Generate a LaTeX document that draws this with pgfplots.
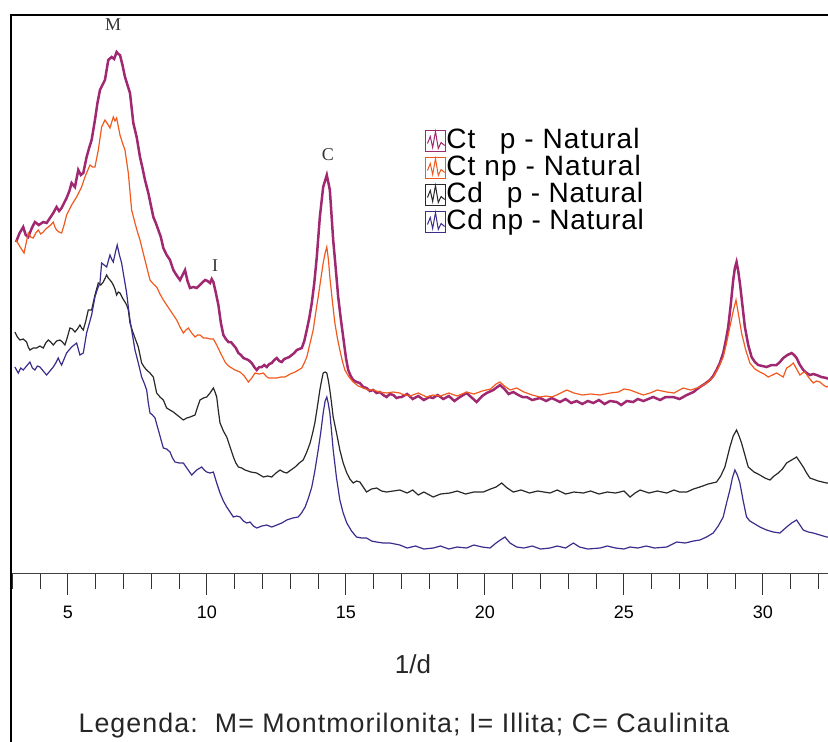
\documentclass[border=0pt]{standalone}
\usepackage{fontspec}
\setmainfont{Liberation Sans}
\newfontfamily\serifface{Liberation Serif}
\newfontfamily\spacedface[LetterSpace=4]{Liberation Sans}
\newfontfamily\legface[LetterSpace=2.5]{Liberation Sans}
\usepackage{pgfplots}
\pgfplotsset{compat=1.18}
\definecolor{ctp}{RGB}{160,40,112}
\definecolor{ctnp}{RGB}{240,90,30}
\definecolor{cdp}{RGB}{40,40,40}
\definecolor{cdnp}{RGB}{60,45,140}
\begin{document}
\begin{tikzpicture}
\begin{axis}[
  width=408.5pt, height=279pt, scale only axis,
  xmin=2.95, xmax=32.34, ymin=0, ymax=558,
  axis x line=bottom, axis y line=none,
  x axis line style={-, line width=0.5pt, draw=black!75},
  clip=false,
  xtick={5,10,15,20,25,30},
  minor xtick={3,4,6,7,8,9,11,12,13,14,16,17,18,19,21,22,23,24,26,27,28,29,31,32},
  tick align=outside,
  major tick length=10.8pt, minor tick length=8pt,
  every tick/.style={black!80, line width=0.5pt},
  ticklabel style={font=\fontsize{9}{10}\selectfont},
  xticklabel style={yshift=-2pt},
  /pgf/number format/assume math mode=true,
  legend style={draw=none, fill=none, at={(rel axis cs:0.5067,0.80)}, anchor=north west,
    font=\spacedface\fontsize{14}{16}\selectfont, inner sep=0pt, row sep=0pt,
    nodes={inner sep=0pt, text height=10.5pt, text depth=3pt}},
  legend cell align=left,
  legend image code/.code={
    \draw[#1, line width=0.5pt] (0pt,-5.5pt) rectangle (10pt,5.25pt);
    \draw[#1, line width=0.5pt] (0.8pt,-1.5pt) -- (2.2pt,2pt) -- (3.4pt,-3.5pt) -- (4.8pt,4.5pt) -- (6.2pt,-4pt) -- (7.6pt,-1pt) -- (9.4pt,-2.5pt);
  },
]
\addplot[ctp, line width=1.25pt] coordinates {
(3.13,331) (3.26,340) (3.39,346) (3.48,338) (3.57,336) (3.7,345) (3.81,351) (3.95,348) (4.11,351) (4.23,350) (4.35,355) (4.47,360) (4.59,366) (4.68,362) (4.77,365) (4.86,370) (4.95,375) (5.05,382) (5.13,390) (5.25,386) (5.37,403) (5.46,398) (5.55,400) (5.67,416) (5.76,425) (5.85,433) (5.97,453) (6.06,470) (6.15,483) (6.24,488) (6.33,493) (6.45,513) (6.57,516) (6.66,514) (6.75,521) (6.81,519) (6.87,518) (6.96,508) (7.05,496) (7.14,488) (7.23,480) (7.35,450) (7.47,436) (7.59,416) (7.68,405) (7.77,393) (7.89,380) (7.98,368) (8.07,356) (8.16,350) (8.25,343) (8.34,336) (8.43,325) (8.55,318) (8.67,313) (8.79,303) (8.9,298) (9.03,293) (9.12,298) (9.21,303) (9.3,292) (9.39,285) (9.51,286) (9.63,285) (9.78,289) (9.93,293) (10.02,292) (10.11,290) (10.17,294) (10.23,291) (10.32,280) (10.41,268) (10.5,250) (10.59,238) (10.68,234) (10.77,231) (10.86,231) (10.95,228) (11.04,225) (11.13,220) (11.22,218) (11.31,215) (11.4,214) (11.49,213) (11.61,210) (11.7,206) (11.79,203) (11.88,206) (11.97,206) (12.06,208) (12.15,206) (12.24,209) (12.33,210) (12.42,213) (12.51,215) (12.6,212) (12.69,211) (12.78,214) (12.87,215) (12.96,216) (13.05,218) (13.14,220) (13.23,223) (13.32,224) (13.41,225) (13.5,232) (13.59,243) (13.68,255) (13.77,270) (13.86,290) (13.95,316) (14.06,356) (14.18,386) (14.31,398) (14.42,383) (14.54,333) (14.63,305) (14.72,276) (14.81,255) (14.9,236) (15.0,215) (15.08,203) (15.17,197) (15.26,193) (15.38,191) (15.5,190) (15.62,186) (15.74,185) (15.86,182) (15.98,183) (16.1,180) (16.22,181) (16.34,178) (16.46,176) (16.58,179) (16.7,178) (16.82,175) (16.94,176)
(17.0,176) (17.2,179) (17.4,174) (17.6,177) (17.8,173) (18.0,176) (18.13,175) (18.3,178) (18.5,174) (18.7,177) (18.9,172) (19.1,176) (19.34,180) (19.5,176) (19.7,171) (19.9,177) (20.06,180) (20.3,183) (20.54,188) (20.7,184) (20.85,179) (21.02,181) (21.2,178) (21.35,176) (21.5,176) (21.7,173) (21.98,175) (22.2,172) (22.4,175) (22.7,171) (22.9,174) (23.1,170) (23.3,172) (23.5,169) (23.7,172) (23.9,170) (24.1,173) (24.3,169) (24.5,172) (24.74,171) (24.9,168) (25.1,172) (25.33,171) (25.5,174) (25.7,172) (26.05,176) (26.3,173) (26.5,176) (26.77,176) (27.0,174) (27.26,178) (27.5,181)
(27.73,186) (27.9,189) (28.09,193) (28.21,197) (28.33,203) (28.45,210) (28.57,220) (28.66,232) (28.75,246) (28.84,268) (28.93,293) (28.99,305) (29.05,311) (29.11,302) (29.17,290) (29.26,268) (29.35,246) (29.47,228) (29.59,216) (29.71,211) (29.83,208) (29.98,207) (30.13,206) (30.31,208) (30.49,208) (30.61,211) (30.73,215) (30.88,218) (31.03,220) (31.12,218) (31.21,215) (31.33,208) (31.45,203) (31.57,200) (31.69,198) (31.81,199) (31.93,198) (32.1,196) (32.29,195) (32.34,194)
};
\addlegendentry{Ct \phantom{n}p - Natural}
\addplot[ctnp, line width=0.6pt] coordinates {
(3.13,333) (3.28,326) (3.42,320) (3.57,340) (3.66,336) (3.75,335) (3.84,340) (3.93,343) (4.02,339) (4.11,341) (4.2,344) (4.29,346) (4.38,348) (4.47,351) (4.53,346) (4.59,343) (4.68,341) (4.77,340) (4.86,348) (4.95,358) (5.04,363) (5.13,368) (5.22,372) (5.31,376) (5.4,381) (5.49,386) (5.61,396) (5.7,402) (5.79,408) (5.88,406) (5.97,406) (6.09,423) (6.21,446) (6.33,453) (6.45,448) (6.51,445) (6.63,456) (6.69,452) (6.75,455) (6.87,438) (6.96,430) (7.05,423) (7.17,400) (7.29,363) (7.41,350) (7.5,341) (7.59,333) (7.68,323) (7.77,313) (7.86,303) (7.95,293) (8.07,289) (8.19,286) (8.31,279) (8.43,273) (8.55,268) (8.67,263) (8.79,258) (8.91,253) (9.03,246) (9.15,240) (9.24,243) (9.33,245) (9.45,240) (9.57,236) (9.66,238) (9.75,238) (9.87,235) (9.99,235) (10.11,234) (10.23,234) (10.35,228) (10.47,221) (10.56,216) (10.65,211) (10.74,208) (10.83,206) (11.01,203) (11.19,201) (11.34,197) (11.49,191) (11.61,195) (11.73,200) (11.88,199) (12.03,200) (12.12,197) (12.21,195) (12.36,195) (12.51,195) (12.66,196) (12.81,196) (12.99,199) (13.17,201) (13.29,203) (13.41,205) (13.5,210) (13.59,216) (13.71,230) (13.82,243) (13.91,260) (14.0,276) (14.09,293) (14.18,310) (14.25,320) (14.31,326) (14.37,313) (14.42,296) (14.51,272) (14.6,250) (14.69,235) (14.78,223) (14.87,212) (14.96,203) (15.11,196) (15.26,191) (15.44,187) (15.62,185) (15.8,183) (15.98,183) (16.22,181) (16.46,180) (16.7,181) (16.94,180)
(17.0,179) (17.3,177) (17.6,180) (17.9,176) (18.13,178) (18.4,177) (18.7,180) (19.0,177) (19.34,181) (19.6,179) (19.9,182) (20.2,184) (20.4,189) (20.54,191) (20.7,187) (20.9,183) (21.14,185) (21.4,181) (21.7,178) (21.98,176) (22.2,177) (22.4,176) (22.58,178) (22.94,183) (23.2,180) (23.5,178) (23.8,179) (24.14,178) (24.5,180) (24.8,181) (25.0,184) (25.22,183) (25.5,180) (25.7,178) (25.94,180) (26.2,183) (26.54,181) (26.8,180) (27.13,185) (27.4,183)
(27.73,186) (27.97,190) (28.21,196) (28.39,205) (28.57,216) (28.69,230) (28.81,246) (28.93,262) (29.03,273) (29.13,257) (29.23,240) (29.38,223) (29.53,210) (29.71,204) (29.89,201) (30.04,199) (30.19,196) (30.34,198) (30.49,200) (30.61,198) (30.73,196) (30.85,205) (30.97,207) (31.09,210) (31.21,204) (31.33,198) (31.42,200) (31.51,201) (31.66,195) (31.81,190) (31.93,192) (32.05,191) (32.17,188) (32.29,186) (32.34,187)
};
\addlegendentry{Ct np - Natural}
\addplot[cdp, line width=0.6pt] coordinates {
(3.09,241) (3.18,236) (3.27,233) (3.39,234) (3.51,231) (3.57,226) (3.63,223) (3.75,225) (3.87,225) (3.99,227) (4.11,225) (4.2,230) (4.29,233) (4.38,231) (4.47,228) (4.59,232) (4.71,233) (4.8,231) (4.89,228) (4.98,236) (5.07,245) (5.16,244) (5.25,241) (5.34,244) (5.43,248) (5.49,245) (5.55,243) (5.64,252) (5.73,263) (5.85,263) (5.97,278) (6.09,290) (6.18,288) (6.27,291) (6.39,298) (6.45,295) (6.51,293) (6.57,291) (6.63,288) (6.69,284) (6.75,278) (6.81,281) (6.87,280) (6.96,275) (7.05,271) (7.11,268) (7.17,263) (7.23,250) (7.32,242) (7.41,235) (7.53,226) (7.65,210) (7.74,206) (7.83,203) (7.95,200) (8.07,196) (8.13,188) (8.19,180) (8.31,176) (8.43,173) (8.55,165) (8.67,163) (8.79,161) (8.97,157) (9.15,153) (9.27,155) (9.39,156) (9.48,157) (9.57,158) (9.66,166) (9.75,173) (9.87,175) (9.99,176) (10.11,180) (10.23,185) (10.29,181) (10.35,176) (10.41,162) (10.47,150) (10.59,142) (10.71,136) (10.83,126) (10.95,116) (11.04,110) (11.13,106) (11.25,105) (11.37,103) (11.58,101) (11.79,100) (11.91,98) (12.03,96) (12.18,97) (12.33,96) (12.48,100) (12.63,103) (12.75,101) (12.87,100) (13.02,103) (13.17,106) (13.32,110) (13.46,113) (13.59,121) (13.71,130) (13.8,140) (13.88,150) (13.97,166) (14.06,183) (14.12,192) (14.18,200) (14.25,201) (14.31,200) (14.37,192) (14.42,183) (14.48,170) (14.54,156) (14.66,140) (14.78,123) (14.9,110) (15.03,100) (15.14,94) (15.26,90) (15.38,92) (15.5,91) (15.62,86) (15.74,81) (15.92,84) (16.1,85) (16.28,82) (16.46,81) (16.7,82) (16.94,83)
(17.2,80) (17.4,83) (17.6,78) (17.8,81) (18.14,76) (18.4,79) (18.74,80) (19.0,82) (19.3,79) (19.6,81) (19.94,81) (20.2,84) (20.4,86) (20.6,90) (20.8,85) (21.02,81) (21.3,83) (21.6,80) (21.9,82) (22.34,80) (22.6,83) (22.9,79) (23.2,81) (23.54,80) (23.8,82) (24.1,79) (24.4,81) (24.7,80) (25.0,82) (25.22,76) (25.4,80) (25.58,83) (25.9,80) (26.2,82) (26.54,80) (26.8,83) (27.0,81) (27.26,81) (27.5,84)
(27.73,86) (28.03,89) (28.33,91) (28.48,97) (28.63,106) (28.72,116) (28.81,126) (28.93,137) (29.05,143) (29.14,137) (29.23,130) (29.35,118) (29.47,106) (29.68,101) (29.89,98) (30.07,95) (30.25,93) (30.4,97) (30.55,100) (30.7,104) (30.85,110) (31.03,113) (31.21,116) (31.33,111) (31.45,106) (31.57,100) (31.69,95) (31.99,92) (32.29,90) (32.34,90)
};
\addlegendentry{\legface Cd \phantom{n}p - Natural}
\addplot[cdnp, line width=0.6pt] coordinates {
(3.09,206) (3.21,200) (3.3,205) (3.39,203) (3.51,207) (3.63,211) (3.72,205) (3.81,203) (3.9,207) (3.99,206) (4.11,202) (4.23,198) (4.35,202) (4.47,206) (4.56,210) (4.65,215) (4.71,211) (4.77,208) (4.86,214) (4.95,220) (5.04,223) (5.13,226) (5.22,228) (5.31,230) (5.37,224) (5.43,218) (5.49,219) (5.55,220) (5.61,230) (5.67,240) (5.76,249) (5.85,258) (5.97,276) (6.06,284) (6.15,290) (6.21,310) (6.3,308) (6.39,306) (6.45,312) (6.51,318) (6.57,314) (6.63,311) (6.7,320) (6.77,328) (6.85,318) (6.93,310) (7.02,295) (7.11,280) (7.17,266) (7.23,253) (7.32,238) (7.41,223) (7.53,210) (7.65,196) (7.74,190) (7.83,183) (7.89,170) (7.95,160) (8.04,158) (8.13,155) (8.25,143) (8.34,134) (8.43,125) (8.55,124) (8.67,121) (8.76,115) (8.85,111) (9.0,110) (9.15,110) (9.3,104) (9.45,98) (9.63,103) (9.81,106) (9.9,103) (9.99,101) (10.11,100) (10.23,101) (10.35,90) (10.47,80) (10.59,72) (10.71,66) (10.83,61) (10.95,56) (11.07,57) (11.19,56) (11.31,52) (11.43,50) (11.55,51) (11.67,47) (11.79,45) (11.97,47) (12.15,48) (12.33,46) (12.51,48) (12.69,50) (12.87,53) (13.08,55) (13.28,56) (13.4,60) (13.53,66) (13.65,75) (13.77,86) (13.88,102) (14.0,123) (14.09,140) (14.18,160) (14.25,172) (14.31,176) (14.36,170) (14.42,160) (14.48,142) (14.54,123) (14.66,95) (14.78,73) (14.9,60) (15.03,50) (15.2,42) (15.38,36) (15.56,35) (15.74,35) (15.92,32) (16.1,31) (16.34,30) (16.58,30) (16.94,28)
(17.2,25) (17.5,27) (17.8,24) (18.14,25) (18.4,27) (18.7,24) (19.0,26) (19.34,25) (19.6,28) (19.9,26) (20.18,25) (20.4,30) (20.55,33) (20.72,36) (20.9,30) (21.14,26) (21.4,25) (21.7,27) (22.0,24) (22.34,25) (22.6,27) (22.9,25) (23.18,30) (23.4,26) (23.7,24) (24.14,25) (24.4,27) (24.7,25) (25.0,24) (25.22,26) (25.5,25) (25.8,27) (26.1,25) (26.54,26) (26.9,31) (27.2,30) (27.5,32)
(27.73,33) (27.97,36) (28.21,40) (28.39,47) (28.57,56) (28.69,70) (28.81,83) (28.9,95) (28.99,103) (29.08,98) (29.17,90) (29.29,72) (29.41,56) (29.53,52) (29.65,50) (29.89,46) (30.13,43) (30.37,41) (30.61,40) (30.73,43) (30.85,46) (31.03,50) (31.21,53) (31.33,48) (31.45,43) (31.63,41) (31.81,40) (32.05,38) (32.29,36) (32.34,36)
};
\addlegendentry{\legface Cd np - Natural}
\node[font=\serifface\fontsize{9}{10}\selectfont, text=black!80] at (axis cs:6.62,548) {M};
\node[font=\serifface\fontsize{9}{10}\selectfont, text=black!80] at (axis cs:10.29,307) {I};
\node[font=\serifface\fontsize{9}{10}\selectfont, text=black!80] at (axis cs:14.35,418) {C};
\node[font=\fontsize{13}{15}\selectfont, text=black!85] at (rel axis cs:0.492,-0.163) {1/d};
\node[font=\spacedface\fontsize{13.4}{15}\selectfont, text=black!85] at (rel axis cs:0.481,-0.273) {Legenda:\ \ M= Montmorilonita; I= Illita; C= Caulinita};
\draw[line width=1.4pt, line cap=rect] (rel axis cs:0,-0.32) -- (rel axis cs:0,1) -- (rel axis cs:1.02,1);
\coordinate (O) at (rel axis cs:0,0);
\coordinate (T) at (rel axis cs:1,1);
\end{axis}
\pgfresetboundingbox
\path[use as bounding box] ([xshift=-5.5pt,yshift=-84pt]O) rectangle ([yshift=7.5pt]T);
\end{tikzpicture}
\end{document}
